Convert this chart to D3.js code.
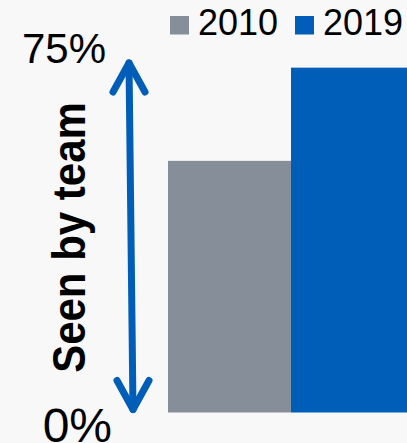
<!DOCTYPE html>
<html>
<head>
<meta charset="utf-8">
<script src="https://cdn.jsdelivr.net/npm/d3@7"></script>
<style>
  html, body { margin: 0; padding: 0; background: #f8f8f8; overflow: hidden; }
  svg { display: block; font-family: "Liberation Sans", Arial, sans-serif; }
</style>
</head>
<body>
<svg id="chart" width="407" height="443"></svg>
<script>
const categories = ["2010", "2019"];
const values = [54, 74];
const colors = ["#868f99", "#005eb8"];
const yTicks = [0, 75];
const yTickLabels = ["0%", "75%"];
const axisTitle = "Seen by team";

const svg = d3.select("#chart");

const y = d3.scaleLinear().domain([0, 75]).range([412.5, 63]);
const x = d3.scaleBand().domain(categories).range([168, 414]).padding(0);
const color = d3.scaleOrdinal().domain(categories).range(colors);

// bars
svg.append("g").selectAll("rect")
  .data(categories.map((c, i) => ({ c, v: values[i] })))
  .join("rect")
  .attr("x", d => x(d.c))
  .attr("width", x.bandwidth())
  .attr("y", d => y(d.v))
  .attr("height", d => y(0) - y(d.v))
  .attr("fill", d => color(d.c));

// double-headed arrow axis
const arrowColor = "#005eb8";
const xTop = 129, xBot = 133;
const g = svg.append("g")
  .attr("fill", "none")
  .attr("stroke", arrowColor)
  .attr("stroke-width", 7)
  .attr("stroke-linecap", "round")
  .attr("stroke-linejoin", "round");
g.append("line")
  .attr("x1", xTop).attr("y1", y(yTicks[1]))
  .attr("x2", xBot).attr("y2", y(yTicks[0]) - 3);
g.append("path")
  .attr("d", `M${xTop - 16},${y(yTicks[1]) + 29} L${xTop},${y(yTicks[1])} L${xTop + 16},${y(yTicks[1]) + 29}`);
g.append("path")
  .attr("d", `M${xBot - 16},${y(yTicks[0]) - 32} L${xBot},${y(yTicks[0]) - 3} L${xBot + 16},${y(yTicks[0]) - 32}`);

// tick labels
svg.append("text")
  .attr("x", 106).attr("y", y(yTicks[1]) - 0.5)
  .attr("text-anchor", "end")
  .attr("font-size", 42)
  .attr("fill", "#000")
  .text(yTickLabels[1]);
svg.append("text")
  .attr("x", 112).attr("y", y(yTicks[0]) + 29.5)
  .attr("text-anchor", "end")
  .attr("font-size", 48)
  .attr("fill", "#000")
  .text(yTickLabels[0]);

// axis title
svg.append("text")
  .attr("transform", "translate(84.5,237.5) scale(1.08,1) rotate(-90)")
  .attr("text-anchor", "middle")
  .attr("font-size", 42)
  .attr("font-weight", "bold")
  .attr("fill", "#000")
  .text(axisTitle);

// legend
const legend = svg.append("g");
const legendX = [170, 295];
categories.forEach((c, i) => {
  legend.append("rect")
    .attr("x", legendX[i]).attr("y", 16)
    .attr("width", 19).attr("height", 18.5)
    .attr("fill", color(c));
  legend.append("text")
    .attr("x", legendX[i] + 28).attr("y", 34.5)
    .attr("font-size", 36)
    .attr("fill", "#000")
    .text(c);
});
</script>
</body>
</html>
